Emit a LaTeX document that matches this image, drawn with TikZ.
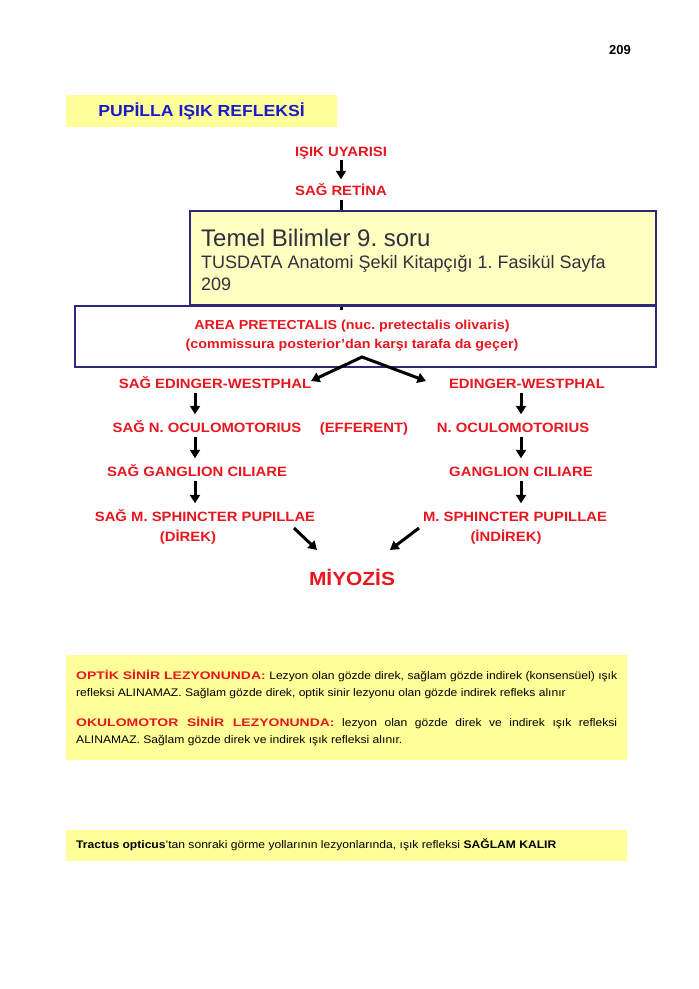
\documentclass[tikz,border=0pt]{standalone}
\usepackage{fontspec}
\setmainfont{Liberation Sans}
\newfontfamily\comic[FakeStretch=1.1]{Liberation Sans}
\newfontfamily\comicH[FakeStretch=1.27]{Liberation Sans}
\usetikzlibrary{arrows.meta,calc}
\definecolor{rred}{HTML}{E8161E}
\definecolor{tblue}{HTML}{1A1ACC}
\definecolor{yel}{HTML}{FFFF99}
\definecolor{navy}{HTML}{2E2878}
\definecolor{ovl}{HTML}{FFFFC2}
\definecolor{gtxt}{HTML}{30303E}
\frenchspacing
\begin{document}
\begin{tikzpicture}[x=1pt,y=-1pt,
  lbl/.style={text=rred, font=\comic\bfseries\fontsize{13.5}{15}\selectfont, inner sep=1pt, text height=10pt, text depth=0pt},
  arr/.style={line width=3pt, -{Triangle[width=10pt,length=8.5pt]}},
  stub/.style={line width=3pt},
  navybox/.style={draw=navy, line width=1.8pt, inner sep=0pt},
  yelbox/.style={fill=yel, draw=none, inner sep=0pt},
  ovtext/.style={anchor=base west, text=gtxt, inner sep=0pt},
  body/.style={font=\comic\fontsize{11}{16.5}\selectfont, text=black, inner sep=0pt, anchor=north west, text width=541pt, align=justify}
]
\useasboundingbox (0,0) rectangle (699,989);
\fill[white] (0,0) rectangle (699,989);

% page number
\node[font=\bfseries\fontsize{13}{15}\selectfont, inner sep=0pt] (pg) at (620,50) {209};

% title
\node[yelbox, minimum width=271pt, minimum height=32pt, text=tblue, text height=11.5pt, text depth=0pt,
      font=\comic\bfseries\fontsize{16}{18}\selectfont] (title) at (201.5,111) {PUPİLLA IŞIK REFLEKSİ};

% top chain
\node[lbl] (isik) at (341,151) {IŞIK UYARISI};
\node[lbl] (ret) at (341,190) {SAĞ RETİNA};
\draw[arr, shorten <=2.5pt, shorten >=4.5pt] (isik) -- (ret);

\node[lbl, font=\comic\bfseries\fontsize{13}{15}\selectfont] (area1) at (352,324) {AREA PRETECTALIS (nuc. pretectalis olivaris)};
\node[lbl, font=\comic\bfseries\fontsize{13}{15}\selectfont] (area2) at (352,343) {(commissura posterior’dan karşı tarafa da geçer)};
\coordinate (stubend) at (341,310);
\draw[stub, shorten <=3.5pt] (ret.south) -- (stubend);

\node[navybox, minimum width=581pt, minimum height=61pt] (box2) at (365.5,336.5) {};
\node[navybox, fill=ovl, minimum width=466pt, minimum height=94pt] (ovr) at (423,258) {};
\node[ovtext, font=\fontsize{24}{28}\selectfont] (t1) at (201,246) {Temel Bilimler 9. soru};
\node[ovtext, font=\fontsize{18}{22}\selectfont] (t2) at (201,268) {TUSDATA Anatomi Şekil Kitapçığı 1. Fasikül Sayfa};
\node[ovtext, font=\fontsize{18}{22}\selectfont] (t3) at (201,290) {209};

% columns
\node[lbl] (ewL) at (215,383) {SAĞ EDINGER-WESTPHAL};
\node[lbl] (ewR) at (527,383) {EDINGER-WESTPHAL};
\node[lbl] (ocL) at (207,427) {SAĞ N. OCULOMOTORIUS};
\node[lbl] (eff) at (364,427) {(EFFERENT)};
\node[lbl] (ocR) at (513,427) {N. OCULOMOTORIUS};
\node[lbl] (gcL) at (197,471) {SAĞ GANGLION CILIARE};
\node[lbl] (gcR) at (521,471) {GANGLION CILIARE};
\node[lbl] (spL) at (205,516) {SAĞ M. SPHINCTER PUPILLAE};
\node[lbl] (spR) at (515,516) {M. SPHINCTER PUPILLAE};
\node[lbl] (dir) at (188,536) {(DİREK)};
\node[lbl] (ind) at (506,536) {(İNDİREK)};
\node[lbl, font=\comic\bfseries\fontsize{19}{22}\selectfont, text height=14pt, text depth=0pt] (miy) at (352,578) {MİYOZİS};

% inverted V
\coordinate (pk) at (362,357);
\coordinate (vl) at (311,381);
\coordinate (vr) at (426,381);
\draw[line width=3pt, line join=miter, {Triangle[width=10pt,length=8.5pt]}-{Triangle[width=10pt,length=8.5pt]}] (vl) -- (pk) -- (vr);

% vertical arrows
\coordinate (lx) at (195,0);
\coordinate (rx) at (521,0);
\foreach \a/\b in {ewL/ocL, ocL/gcL, gcL/spL}{
  \draw[arr, shorten <=3.5pt, shorten >=6.5pt] (\a.south -| lx) -- (\b.north -| lx);
}
\foreach \a/\b in {ewR/ocR, ocR/gcR, gcR/spR}{
  \draw[arr, shorten <=3.5pt, shorten >=6.5pt] (\a.south -| rx) -- (\b.north -| rx);
}

% diagonal arrows
\coordinate (dla) at (294,528);
\coordinate (dlb) at (317,550);
\coordinate (dra) at (419,528);
\coordinate (drb) at (390,550);
\draw[arr] (dla) -- (dlb);
\draw[arr] (dra) -- (drb);

% note box 1
\node[yelbox, minimum width=561pt, minimum height=105pt] (note1) at (346.5,707.5) {};
\node[body] (p1) at (76,670) {{\comicH\color{rred}\bfseries OPTİK SİNİR LEZYONUNDA:} Lezyon olan gözde direk, sağlam gözde indirek (konsensüel) ışık\linebreak
refleksi ALINAMAZ. Sağlam gözde direk, optik sinir lezyonu olan gözde indirek refleks alınır\par\vspace{14pt}
{\comicH\color{rred}\bfseries OKULOMOTOR SİNİR LEZYONUNDA:} lezyon olan gözde direk ve indirek ışık refleksi\linebreak
ALINAMAZ. Sağlam gözde direk ve indirek ışık refleksi alınır.};

% note box 2
\node[yelbox, minimum width=561pt, minimum height=31pt] (note2) at (346.5,845.5) {};
\node[anchor=base west, inner sep=0pt, font=\comic\fontsize{11}{13}\selectfont] (p3) at (76,848) {\textbf{Tractus opticus}’tan sonraki görme yollarının lezyonlarında, ışık refleksi \textbf{SAĞLAM KALIR}};
\end{tikzpicture}
\end{document}
